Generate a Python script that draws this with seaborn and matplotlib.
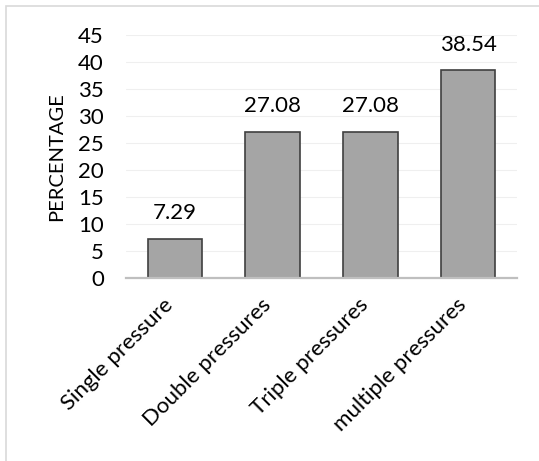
import matplotlib
matplotlib.use("Agg")
import matplotlib.pyplot as plt
import matplotlib.transforms as mtransforms
import seaborn as sns
import pandas as pd
from matplotlib.patches import Rectangle

categories = ["Single pressure", "Double pressures", "Triple pressures", "multiple pressures"]
values = [7.29, 27.08, 27.08, 38.54]
yticks = [0, 5, 10, 15, 20, 25, 30, 35, 40, 45]

sns.set_theme(style="white")
plt.rcParams['font.family'] = ['Lato', 'DejaVu Sans']

df = pd.DataFrame({"cat": categories, "val": values})

fig = plt.figure(figsize=(5.39, 4.61), dpi=100)
ax = fig.add_axes([126/539, 1-278/461, (517-126)/539, (278-35)/461])

sns.barplot(data=df, x="cat", y="val", color="#a5a5a5", saturation=1,
            edgecolor="#404040", linewidth=1.2, width=0.56, ax=ax)

FS = 16
ax.set_ylim(0, 45)
ax.set_yticks(yticks)
ax.set_yticklabels([str(t) for t in yticks], fontsize=FS, color="#000000")
ax.yaxis.grid(True, color="#efefef", linewidth=0.8)
ax.set_axisbelow(True)
for s in ["top", "right", "left"]:
    ax.spines[s].set_visible(False)
ax.spines["bottom"].set_color("#bfbfbf")
ax.spines["bottom"].set_linewidth(1.6)
ax.tick_params(axis="y", length=0, pad=16)
ax.tick_params(axis="x", length=0, pad=4)
ax.set_xlabel("")
ax.set_ylabel("PERCENTAGE", fontsize=14.5, color="#000000", labelpad=9)
ax.set_xticks(range(len(categories)))
ax.set_xticklabels(categories, rotation=45, ha="right", rotation_mode="anchor",
                   fontsize=FS, color="#000000")
offset = mtransforms.ScaledTranslation(-12/100, -11/100, fig.dpi_scale_trans)
for lbl in ax.get_xticklabels():
    lbl.set_transform(lbl.get_transform() + offset)

for c in ax.containers:
    ax.bar_label(c, labels=[f"{v:.2f}" for v in values], padding=11,
                 fontsize=FS, color="#000000")

fig.patches.append(Rectangle((6/539, -0.1), 1.2, 1-6/461+0.1, transform=fig.transFigure,
                             fill=False, edgecolor="#d9d9d9", linewidth=1.2))

fig.savefig("out.png", dpi=100, facecolor="white")
